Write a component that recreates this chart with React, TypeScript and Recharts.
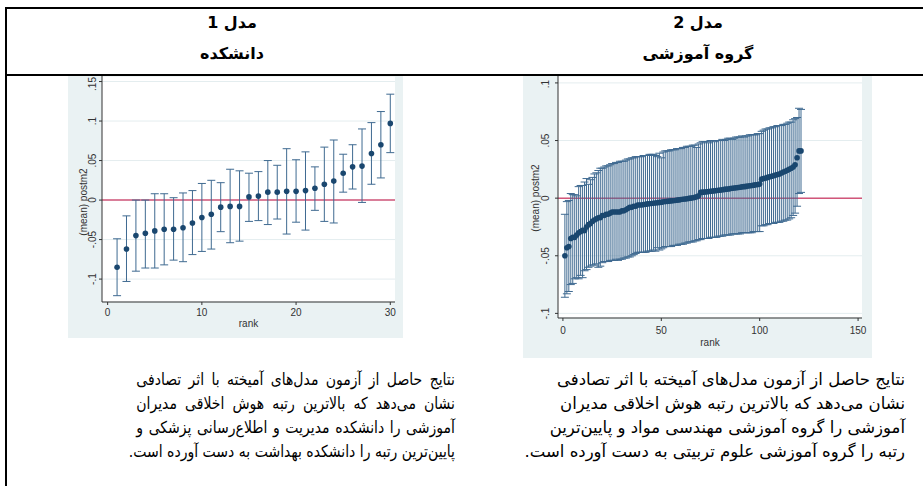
import React from 'react';
import { ComposedChart, Scatter, ErrorBar, XAxis, YAxis, CartesianGrid, ReferenceLine } from 'recharts';

// مدل 1 - دانشکده (30 faculties)
const leftMean = [
  -0.085, -0.062, -0.045, -0.042, -0.039, -0.037, -0.037, -0.035, -0.029, -0.022,
  -0.018, -0.009, -0.008, -0.008, 0.004, 0.005, 0.010, 0.010, 0.011, 0.011,
  0.012, 0.015, 0.020, 0.024, 0.034, 0.042, 0.043, 0.059, 0.070, 0.097,
];
const leftLo = [
  -0.121, -0.103, -0.090, -0.086, -0.086, -0.082, -0.076, -0.078, -0.069, -0.065,
  -0.062, -0.040, -0.054, -0.052, -0.027, -0.026, -0.031, -0.024, -0.043, -0.028,
  -0.038, -0.013, -0.027, -0.029, 0.010, 0.014, -0.003, 0.020, 0.028, 0.060,
];
const leftHi = [
  -0.049, -0.020, 0.000, 0.000, 0.008, 0.008, 0.003, 0.009, 0.012, 0.021,
  0.025, 0.022, 0.039, 0.037, 0.034, 0.036, 0.050, 0.044, 0.065, 0.051,
  0.061, 0.042, 0.067, 0.076, 0.058, 0.070, 0.090, 0.098, 0.112, 0.134,
];

// مدل 2 - گروه آموزشی (121 departments)
const rightMean = [
  -0.050, -0.043, -0.042, -0.035, -0.034, -0.034, -0.032, -0.030, -0.029, -0.028,
  -0.028, -0.025, -0.023, -0.022, -0.020, -0.019, -0.018, -0.017, -0.017, -0.015,
  -0.015, -0.014, -0.014, -0.013, -0.012, -0.012, -0.012, -0.012, -0.012, -0.011,
  -0.011, -0.010, -0.009, -0.008, -0.008, -0.007, -0.007, -0.006, -0.006, -0.006,
  -0.0055, -0.0053, -0.005, -0.0048, -0.0046, -0.0044, -0.0042, -0.004, -0.0037, -0.0035,
  -0.0032, -0.003, -0.0028, -0.0026, -0.0024, -0.0022, -0.002, -0.0017, -0.0015, -0.0012,
  -0.001, -0.0007, -0.0005, -0.0002, 0.0, 0.0003, 0.0007, 0.0012, 0.002, 0.005,
  0.0052, 0.0054, 0.0056, 0.0058, 0.006, 0.0062, 0.0064, 0.0066, 0.0068, 0.007,
  0.0073, 0.0076, 0.0078, 0.008, 0.0083, 0.0086, 0.0088, 0.009, 0.0092, 0.0095,
  0.0098, 0.010, 0.0102, 0.0105, 0.0108, 0.011, 0.0113, 0.0116, 0.0119, 0.0122,
  0.0165, 0.017, 0.0175, 0.018, 0.0185, 0.019, 0.0195, 0.020, 0.0205, 0.021,
  0.0218, 0.0226, 0.0234, 0.0242, 0.025, 0.026, 0.027, 0.029, 0.035, 0.041,
  0.041,
];
const rightLo = [
  -0.086, -0.083, -0.081, -0.075, -0.074, -0.070, -0.069, -0.070, -0.067, -0.069,
  -0.063, -0.062, -0.060, -0.059, -0.058, -0.058, -0.057, -0.060, -0.059, -0.056,
  -0.055, -0.055, -0.055, -0.054, -0.054, -0.054, -0.053, -0.054, -0.053, -0.053,
  -0.052, -0.052, -0.051, -0.051, -0.050, -0.049, -0.048, -0.047, -0.047, -0.047,
  -0.047, -0.047, -0.046, -0.046, -0.046, -0.045, -0.046, -0.043, -0.045, -0.044,
  -0.043, -0.042, -0.042, -0.042, -0.042, -0.041, -0.041, -0.041, -0.040, -0.040,
  -0.040, -0.039, -0.039, -0.038, -0.038, -0.038, -0.037, -0.037, -0.036, -0.036,
  -0.035, -0.035, -0.035, -0.035, -0.034, -0.034, -0.034, -0.034, -0.033, -0.033,
  -0.033, -0.032, -0.032, -0.032, -0.032, -0.031, -0.031, -0.031, -0.031, -0.031,
  -0.030, -0.030, -0.030, -0.030, -0.030, -0.030, -0.029, -0.029, -0.029, -0.029,
  -0.024, -0.024, -0.023, -0.023, -0.022, -0.022, -0.022, -0.021, -0.021, -0.021,
  -0.020, -0.020, -0.019, -0.019, -0.018, -0.017, -0.015, -0.013, -0.007, 0.004,
  0.005,
];
const rightHi = [
  -0.014, -0.003, -0.002, 0.004, 0.003, 0.003, 0.002, 0.010, 0.011, 0.011,
  0.014, 0.017, 0.012, 0.016, 0.018, 0.021, 0.022, 0.024, 0.026, 0.026,
  0.027, 0.028, 0.028, 0.029, 0.030, 0.030, 0.031, 0.031, 0.032, 0.032,
  0.032, 0.033, 0.034, 0.034, 0.035, 0.035, 0.036, 0.036, 0.036, 0.036,
  0.037, 0.037, 0.037, 0.038, 0.038, 0.038, 0.037, 0.036, 0.039, 0.035,
  0.040, 0.041, 0.041, 0.041, 0.042, 0.042, 0.042, 0.043, 0.043, 0.043,
  0.044, 0.044, 0.045, 0.045, 0.045, 0.046, 0.046, 0.044, 0.047, 0.048,
  0.049, 0.049, 0.049, 0.048, 0.050, 0.050, 0.049, 0.050, 0.050, 0.050,
  0.051, 0.050, 0.051, 0.052, 0.052, 0.051, 0.052, 0.053, 0.053, 0.053,
  0.054, 0.053, 0.054, 0.054, 0.055, 0.055, 0.055, 0.055, 0.056, 0.056,
  0.058, 0.059, 0.060, 0.060, 0.061, 0.061, 0.062, 0.062, 0.063, 0.063,
  0.063, 0.064, 0.064, 0.065, 0.066, 0.066, 0.068, 0.069, 0.070, 0.078,
  0.077,
];

const leftYTicks = [-0.1, -0.05, 0, 0.05, 0.1, 0.15];
const leftXTicks = [0, 10, 20, 30];
const rightYTicks = [-0.1, -0.05, 0, 0.05, 0.1];
const rightXTicks = [0, 50, 100, 150];

const headers = [
  { model: 'مدل 1', level: 'دانشکده' },
  { model: 'مدل 2', level: 'گروه آموزشی' },
];

const leftText = [
  'نتایج حاصل از آزمون مدل‌های آمیخته با اثر تصادفی',
  'نشان می‌دهد که بالاترین رتبه هوش اخلاقی مدیران',
  'آموزشی را دانشکده مدیریت و اطلاع‌رسانی پزشکی و',
  'پایین‌ترین رتبه را دانشکده بهداشت به دست آورده است.',
];
const rightText = [
  'نتایج حاصل از آزمون مدل‌های آمیخته با اثر تصادفی',
  'نشان می‌دهد که بالاترین رتبه هوش اخلاقی مدیران',
  'آموزشی را گروه آموزشی مهندسی مواد و پایین‌ترین',
  'رتبه را گروه آموزشی علوم تربیتی به دست آورده است.',
];

const BG = '#EAF2F3';
const NAVY = '#1A476F';
const BAR = '#3F6A91';
const AXIS = '#333';
const TICK_FONT = 'Liberation Sans, Arial, sans-serif';

const fmt = (v: number) => {
  if (v === 0) return '0';
  const s = String(v);
  return s.replace('0.', '.');
};

const toRows = (mean: number[], lo: number[], hi: number[]) =>
  mean.map((m, i) => ({ rank: i + 1, mean: m, err: [m - lo[i], hi[i] - m] }));

const YTick = (props: any) => {
  const { x, y, payload } = props;
  return (
    <text x={x} y={y} transform={`rotate(-90 ${x} ${y})`} textAnchor="middle"
      fontSize={10} fill={AXIS} fontFamily={TICK_FONT}>
      {fmt(payload.value)}
    </text>
  );
};

const Dot = (p: any) => <circle cx={p.cx} cy={p.cy} r={2.8} fill={NAVY} />;

type CatProps = {
  rows: { rank: number; mean: number; err: number[] }[];
  width: number; height: number; right: number;
  yAxisW: number; xAxisH: number; tickGapY: number; tickGapX: number;
  xDomain: number[]; yDomain: number[]; xTicks: number[]; yTicks: number[];
  titleX: number; titleY: number; rankY: number;
};

function Caterpillar(p: CatProps) {
  return (
    <ComposedChart width={p.width} height={p.height} data={p.rows}
      margin={{ top: 1, right: p.right, bottom: 0, left: 0 }}>
      <CartesianGrid horizontal vertical={false} fill="#fff" stroke="#E4EDEF" />
      <XAxis dataKey="rank" type="number" domain={p.xDomain} ticks={p.xTicks} allowDataOverflow
        height={p.xAxisH} stroke={AXIS} tickSize={3} tickMargin={p.tickGapX}
        tick={{ fontSize: 10, fill: AXIS, fontFamily: TICK_FONT }}
        label={{ content: (lp: any) => {
          const vb = lp.viewBox;
          return <text x={vb.x + vb.width / 2} y={p.rankY} textAnchor="middle" fontSize={10}
            fill={AXIS} fontFamily={TICK_FONT}>rank</text>;
        } }} />
      <YAxis dataKey="mean" type="number" domain={p.yDomain} ticks={p.yTicks} allowDataOverflow
        width={p.yAxisW} stroke={AXIS} tickSize={3} tickMargin={p.tickGapY} tick={<YTick />}
        label={{ content: () => (
          <text x={p.titleX} y={p.titleY} transform={`rotate(-90 ${p.titleX} ${p.titleY})`}
            textAnchor="middle" fontSize={10} fill={AXIS} fontFamily={TICK_FONT}>(mean) postm2</text>
        ) }} />
      <ReferenceLine y={0} stroke="#D2567A" strokeWidth={1.5} />
      <Scatter data={p.rows} shape={Dot} isAnimationActive={false}>
        <ErrorBar dataKey="err" direction="y" width={4} stroke={BAR} strokeWidth={1}
          isAnimationActive={false} />
      </Scatter>
    </ComposedChart>
  );
}

export default function App() {
  const leftRows = toRows(leftMean, leftLo, leftHi);
  const rightRows = toRows(rightMean, rightLo, rightHi);
  const fa = 'DejaVu Sans, sans-serif';
  const line = (x: number, y: number, w: number, h: number) => (
    <div style={{ position: 'absolute', left: x, top: y, width: w, height: h, background: '#000' }} />
  );
  return (
    <div style={{ position: 'absolute', left: 0, top: 0, width: 923, height: 486, background: '#fff', overflow: 'hidden' }}>
      <div style={{ position: 'absolute', left: 68, top: 75, width: 335, height: 263, background: BG }}>
        <Caterpillar rows={leftRows} width={335} height={263} right={8} yAxisW={34} xAxisH={36}
          tickGapY={3} tickGapX={4} xDomain={[-0.6, 30.5]} yDomain={[-0.129, 0.157]}
          xTicks={leftXTicks} yTicks={leftYTicks} titleX={18.5} titleY={127} rankY={252} />
      </div>
      <div style={{ position: 'absolute', left: 523, top: 75, width: 349, height: 283, background: BG }}>
        <Caterpillar rows={rightRows} width={349} height={283} right={10} yAxisW={35} xAxisH={40}
          tickGapY={6} tickGapX={6} xDomain={[-2.5, 152]} yDomain={[-0.104, 0.106]}
          xTicks={rightXTicks} yTicks={rightYTicks} titleX={16} titleY={123} rankY={271} />
      </div>

      {line(5, 7, 918, 2)}
      {line(5, 74, 918, 2)}
      {line(5, 7, 2, 479)}

      {headers.map((h, i) => (
        <div key={i} style={{ position: 'absolute', left: i === 0 ? 82 : 548, top: 8, width: 300,
          textAlign: 'center', direction: 'rtl', fontFamily: fa, fontWeight: 'bold', fontSize: 16, color: '#000' }}>
          <div style={{ height: 29, lineHeight: '29px' }}>{h.model}</div>
          <div style={{ height: 34, lineHeight: '34px' }}>{h.level}</div>
        </div>
      ))}

      <div style={{ position: 'absolute', left: 80, top: 368, width: 375, direction: 'rtl',
        fontFamily: fa, fontSize: 16.5, color: '#000', transform: 'scaleX(0.85)', transformOrigin: 'right top' }}>
        {leftText.map((t, i) => (
          <div key={i} style={{ height: 24, lineHeight: '24px', textAlign: 'justify', textAlignLast: 'justify', whiteSpace: 'nowrap' }}>{t}</div>
        ))}
      </div>
      <div style={{ position: 'absolute', left: 485, top: 368, width: 420, direction: 'rtl',
        fontFamily: fa, fontSize: 16.5, color: '#000' }}>
        {rightText.map((t, i) => (
          <div key={i} style={{ height: 24, lineHeight: '24px', textAlign: 'right', whiteSpace: 'nowrap' }}>{t}</div>
        ))}
      </div>
    </div>
  );
}
